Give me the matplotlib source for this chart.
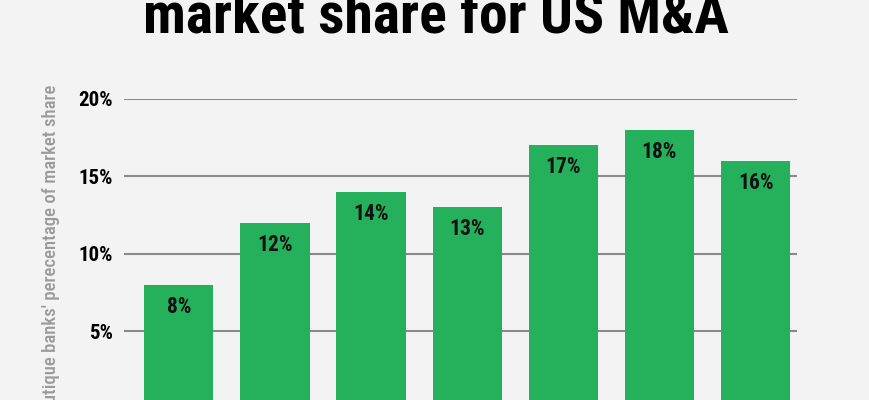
import matplotlib
matplotlib.use("Agg")
import matplotlib.pyplot as plt
from matplotlib import font_manager

years = ['2017', '2018', '2019', '2020', '2021', '2022', '2023']
share = [8, 12, 14, 13, 17, 18, 16]
yticks = [0, 5, 10, 15, 20]
ytick_labels = ['0%', '5%', '10%', '15%', '20%']

# pick a condensed face if the machine has one
names = set(f.name for f in font_manager.fontManager.ttflist)
cond = 'Roboto'
for n in ['Roboto Condensed', 'Barlow Semi Condensed', 'Fira Sans Condensed', 'IBM Plex Sans Condensed']:
    if n in names:
        cond = n
        break

bg = '#f3f3f3'
green = '#25b15b'

fig = plt.figure(figsize=(8.7, 4), dpi=100, facecolor=bg)
ax = fig.add_axes([0.1425, -0.022, 0.7736, 0.7753])
ax.set_facecolor(bg)

bars = ax.bar(range(len(share)), share, width=0.72, color=green, zorder=3)
ax.set_xlim(-0.57, 6.43)
ax.set_ylim(0, 20)
ax.set_yticks(yticks)
ax.set_yticklabels(ytick_labels, fontfamily=cond, fontweight='bold', fontsize=15)
ax.tick_params(axis='y', length=0, pad=8)
ax.tick_params(axis='x', length=0, labelbottom=False)
ax.grid(axis='y', color='#8a8a8a', linewidth=1.5, zorder=0)
for s in ax.spines.values():
    s.set_visible(False)

for b, v in zip(bars, share):
    ax.annotate(f'{v}%', (b.get_x() + b.get_width() / 2, v), xytext=(0, -16),
                textcoords='offset points', ha='center', va='center',
                fontfamily=cond, fontweight='bold', fontsize=15.5, color='#111111', zorder=4)

ax.set_ylabel("Boutique banks' perecentage of market share", fontfamily=cond,
              fontweight='medium', fontsize=13.5, color='#9a9a9a')
ax.yaxis.set_label_coords(-0.095, 0.5)

fig.text(0.501, 0.9175, 'market share for US M&A', ha='center', va='baseline',
         fontfamily=cond, fontweight='heavy', fontsize=41.5, color='black')

fig.savefig('out.png', dpi=100, facecolor=bg)
